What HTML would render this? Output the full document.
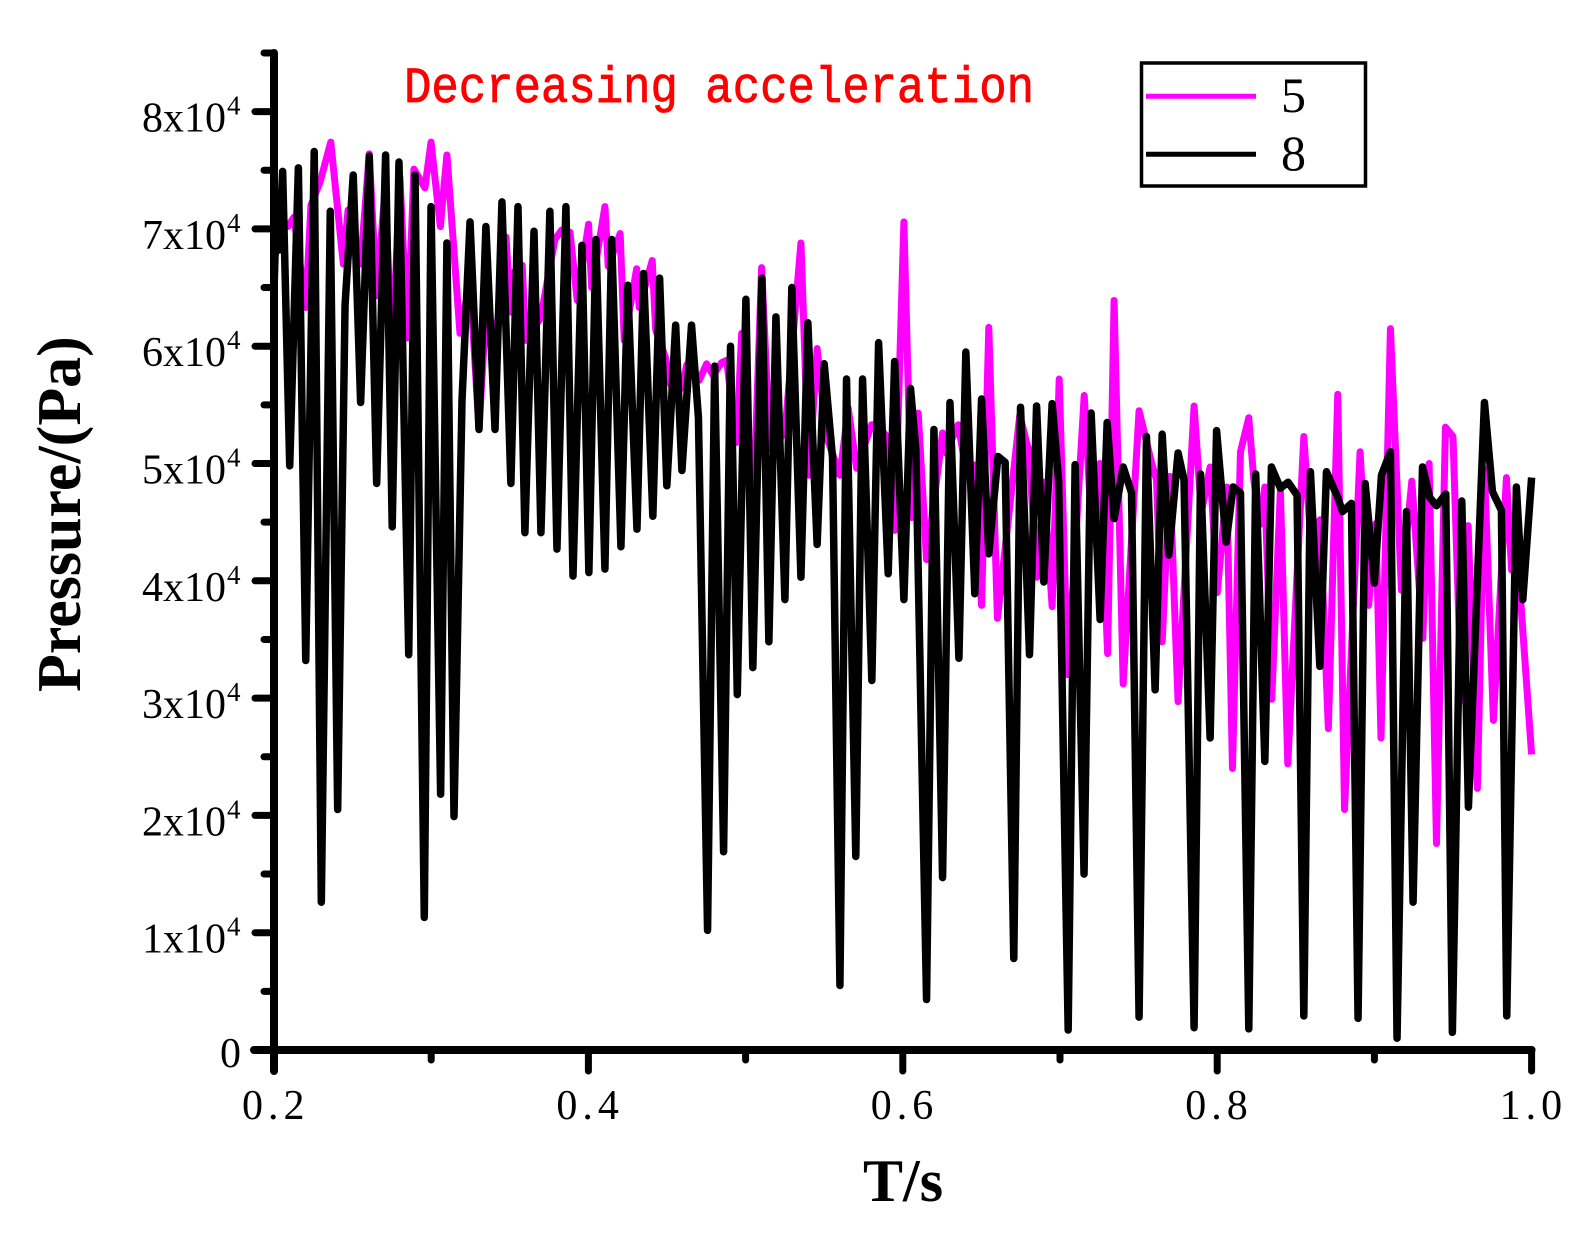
<!DOCTYPE html>
<html lang="en">
<head>
<meta charset="utf-8">
<title>Pressure vs time</title>
<style>
html,body{margin:0;padding:0;background:#fff;}
svg{display:block;}
text{font-family:"Liberation Serif",serif;fill:#000;}
</style>
</head>
<body>
<svg id="chart" width="1593" height="1243" viewBox="0 0 1593 1243" xmlns="http://www.w3.org/2000/svg">
  <g id="series-layer"></g>
  <g id="axis-layer"></g>
  <text x="404" y="102" textLength="630" lengthAdjust="spacingAndGlyphs" style="font-family:'Liberation Mono',monospace;font-size:51px;fill:#ff0000;stroke:#ff0000;stroke-width:.8px">Decreasing acceleration</text>
  <text x="863" y="1201" style="font-weight:bold;font-size:60px">T/s</text>
  <text transform="translate(80 692) rotate(-90)" style="font-weight:bold;font-size:62px">Pressure/(Pa)</text>
  <g>
    <rect x="1141.5" y="63" width="224" height="123" fill="#fff" stroke="#000" stroke-width="3.5"/>
    <line x1="1146" x2="1256" y1="96.3" y2="96.3" stroke="#ff00ff" stroke-width="5"/>
    <line x1="1146" x2="1256" y1="154.3" y2="154.3" stroke="#000" stroke-width="5"/>
    <text x="1281" y="112" style="font-size:50px">5</text>
    <text x="1281" y="170" style="font-size:50px">8</text>
  </g>
</svg>
<script>
// Series "8" (black): time in s, pressure in units of 1e4 Pa
const time8 = [
.2000,.2017,.2032,.2055,.2100,.2155,.2202,.2256,.2301,.2358,.2405,.2452,.2504,.2551,.2606,.2653,.2710,.2752,.2795,.2857,
.2897,.2956,.2999,.3060,.3100,.3145,.3196,.3247,.3304,.3348,.3406,.3450,.3507,.3552,.3596,.3654,.3698,.3755,.3800,.3857,
.3902,.3959,.4003,.4048,.4105,.4148,.4207,.4250,.4309,.4351,.4410,.4453,.4499,.4555,.4595,.4656,.4700,.4758,.4803,.4860,
.4904,.4947,.5002,.5046,.5104,.5148,.5193,.5250,.5294,.5352,.5396,.5455,.5500,.5553,.5600,.5642,.5701,.5744,.5803,.5846,
.5907,.5948,.6007,.6049,.6083,.6151,.6198,.6253,.6300,.6357,.6401,.6458,.6501,.6547,.6605,.6651,.6706,.6749,.6806,.6851,
.6897,.6950,.6991,.7052,.7096,.7153,.7198,.7255,.7300,.7344,.7402,.7455,.7503,.7550,.7605,.7650,.7692,.7751,.7789,.7853,
.7894,.7955,.7996,.8057,.8101,.8148,.8201,.8245,.8303,.8345,.8402,.8451,.8508,.8551,.8593,.8653,.8695,.8767,.8797,.8854,
.8896,.8941,.9000,.9045,.9102,.9144,.9204,.9246,.9306,.9352,.9395,.9454,.9496,.9556,.9598,.9700,.9751,.9808,.9842,.9903,
.9944,1.0000];
const pressure8 = [
6.48,7.24,6.82,7.49,4.98,7.52,3.32,7.66,1.26,7.15,2.05,6.35,7.46,5.52,7.62,4.83,7.63,4.46,7.57,3.37,
7.46,1.13,7.19,2.18,6.88,1.99,5.54,7.06,5.29,7.02,5.29,7.23,4.83,7.19,4.41,6.98,4.41,7.15,4.27,7.19,
4.04,6.86,4.07,6.91,4.10,6.91,4.29,6.52,4.44,6.62,4.55,6.58,4.81,6.18,4.94,6.18,5.39,1.02,5.83,1.69,
6.00,3.03,6.40,3.26,6.58,3.48,6.25,3.84,6.50,4.03,6.20,4.31,5.85,5.05,0.55,5.72,1.65,5.72,3.15,6.03,
4.06,5.87,3.84,5.64,5.12,0.43,5.29,1.47,5.52,3.34,5.95,3.89,5.55,4.23,5.06,5.01,0.78,5.48,3.37,5.49,
3.99,5.51,4.86,0.17,4.99,1.50,5.43,3.67,5.35,4.53,4.97,4.75,0.28,5.23,3.07,5.25,4.22,5.09,4.86,0.19,
4.91,2.66,5.28,4.33,4.80,4.75,0.18,4.91,2.46,4.97,4.79,4.84,4.73,0.29,4.93,3.27,4.93,4.71,4.59,4.66,
0.27,4.83,3.98,4.90,5.10,0.10,4.59,1.26,4.97,4.71,4.64,4.74,0.15,4.68,2.07,5.52,4.76,4.60,0.29,4.80,
3.84,4.88];

// Series "5" (magenta): time in s, pressure in units of 1e4 Pa
const time5 = [
.2003,.2032,.2089,.2127,.2202,.2235,.2293,.2361,.2441,.2471,.2551,.2606,.2653,.2706,.2752,.2801,.2850,.2890,.2960,.2999,
.3058,.3100,.3183,.3247,.3304,.3353,.3406,.3476,.3505,.3518,.3579,.3601,.3696,.3787,.3830,.3883,.3929,.4001,.4021,.4105,
.4126,.4202,.4228,.4307,.4323,.4406,.4428,.4491,.4519,.4550,.4600,.4625,.4646,.4705,.4752,.4794,.4847,.4879,.4943,.4975,
.5048,.5102,.5155,.5250,.5352,.5403,.5455,.5515,.5600,.5653,.5706,.5801,.5833,.5907,.5949,.6007,.6056,.6098,.6151,.6253,
.6274,.6353,.6395,.6448,.6501,.6547,.6602,.6744,.6801,.6854,.6897,.6950,.6995,.7049,.7154,.7202,.7254,.7303,.7344,.7402,
.7503,.7582,.7614,.7650,.7698,.7751,.7853,.7899,.7955,.8000,.8061,.8097,.8148,.8201,.8233,.8271,.8303,.8347,.8402,.8449,
.8551,.8602,.8654,.8707,.8767,.8810,.8909,.8963,.9010,.9042,.9102,.9172,.9238,.9308,.9348,.9395,.9452,.9500,.9553,.9596,
.9655,.9700,.9757,.9840,.9873,.9912,1.0000];
const pressure5 = [
6.72,7.12,7.02,7.10,6.33,7.20,7.40,7.74,6.70,7.16,6.70,7.64,6.43,7.33,5.92,7.44,6.07,7.51,7.35,7.74,
7.02,7.63,6.11,6.56,5.29,6.42,5.99,6.93,6.29,6.62,6.69,6.05,6.24,6.91,6.99,6.97,6.39,7.04,6.50,7.19,
6.68,6.96,6.05,6.66,6.33,6.73,6.14,5.90,5.69,5.58,5.66,5.84,5.82,5.71,5.85,5.75,5.86,5.88,5.18,6.11,
4.58,6.67,5.13,5.26,6.88,4.90,5.98,5.23,4.90,5.47,4.96,5.33,5.33,5.22,4.43,7.06,4.54,5.43,4.18,5.26,
5.09,5.33,5.00,4.99,3.79,6.16,3.68,5.41,5.11,4.03,4.84,3.78,5.72,3.20,5.58,4.43,5.00,3.38,6.39,3.12,
5.45,5.01,4.86,3.48,4.89,2.97,5.49,4.58,4.97,3.90,4.80,2.40,5.10,5.39,4.86,4.48,4.80,2.99,4.77,2.44,
5.23,4.20,4.52,2.74,5.59,2.05,5.10,3.79,4.49,2.66,6.15,3.92,4.85,3.51,5.00,1.76,5.31,5.23,2.98,4.47,
2.23,4.95,2.81,4.88,4.09,4.18,2.52];

// Axis ticks and labels
const xMajorTicks = [0.2,0.4,0.6,0.8,1.0];
const xMinorTicks = [0.3,0.5,0.7,0.9];
const xTickLabels = ["0.2","0.4","0.6","0.8","1.0"];
const yMajorTicks = [0,1,2,3,4,5,6,7,8];
const yMinorTicks = [0.5,1.5,2.5,3.5,4.5,5.5,6.5,7.5,8.5];
const yTickMantissas = ["1","2","3","4","5","6","7","8"];

const SVGNS = "http://www.w3.org/2000/svg";
function xScale(t){ return 274 + (t - 0.2) * 1572; }
function yScale(v){ return 1050 - v * 117.3; }

function buildPath(times, values){
  let d = "";
  for (let i = 0; i < times.length; i++){
    d += (i ? "L" : "M") + xScale(times[i]).toFixed(2) + " " + yScale(values[i]).toFixed(2);
  }
  return d;
}

const seriesLayer = document.getElementById("series-layer");
const axisLayer = document.getElementById("axis-layer");

const line5 = document.createElementNS(SVGNS, "path");


line5.setAttribute("d", buildPath(time5, pressure5));
line5.setAttribute("fill", "none");
line5.setAttribute("stroke", "#ff00ff");
line5.setAttribute("stroke-width", "7");
line5.setAttribute("stroke-linejoin", "round");
seriesLayer.appendChild(line5);

const line8 = document.createElementNS(SVGNS, "path");


line8.setAttribute("d", buildPath(time8, pressure8));
line8.setAttribute("fill", "none");
line8.setAttribute("stroke", "#000");
line8.setAttribute("stroke-width", "7.5");
line8.setAttribute("stroke-linejoin", "round");
seriesLayer.appendChild(line8);

function addLine(x1, y1, x2, y2, width, cap){
  const l = document.createElementNS(SVGNS, "line");
  l.setAttribute("x1", x1);
  l.setAttribute("y1", y1);
  l.setAttribute("x2", x2);
  l.setAttribute("y2", y2);
  l.setAttribute("stroke", "#000");
  l.setAttribute("stroke-width", width);
  l.setAttribute("stroke-linecap", cap);
  axisLayer.appendChild(l);
  return l;
}
function addText(x, y, str, size){
  const t = document.createElementNS(SVGNS, "text");
  t.setAttribute("x", x);
  t.setAttribute("y", y);
  t.setAttribute("font-size", size);
  t.textContent = str;
  axisLayer.appendChild(t);
  return t;
}

const yAxisLine = addLine(xScale(0.2), yScale(8.5) , xScale(0.2), 1071, 8, "round");


const xAxisLine = addLine(254, yScale(0), xScale(1.0), yScale(0), 8, "round");



xMajorTicks.forEach(function(t, i){
  const tick = addLine(xScale(t), yScale(0), xScale(t), 1071, 7, "round");
  
  
  const label = addText(xScale(t) - 32, 1119, xTickLabels[i], 42);
  
  
  label.setAttribute("letter-spacing", "5");
});
xMinorTicks.forEach(function(t){
  const tick = addLine(xScale(t), yScale(0), xScale(t), 1060, 7, "round");
  
  
});
yMajorTicks.forEach(function(v){
  const tick = addLine(xScale(0.2), yScale(v), 255, yScale(v), 7, "round");
  
  
});
yMinorTicks.forEach(function(v){
  const tick = addLine(xScale(0.2), yScale(v), 264, yScale(v), 7, "round");
  
  
});
const zeroLabel = addText(220, 1067, "0", 42);


yTickMantissas.forEach(function(m, i){
  const y = yScale(i + 1);
  const label = addText(142, y + 20, m + "x10", 42);
  
  
  const exp = addText(227, y + 3, "4", 27);
  
  
});
</script>
</body>
</html>
